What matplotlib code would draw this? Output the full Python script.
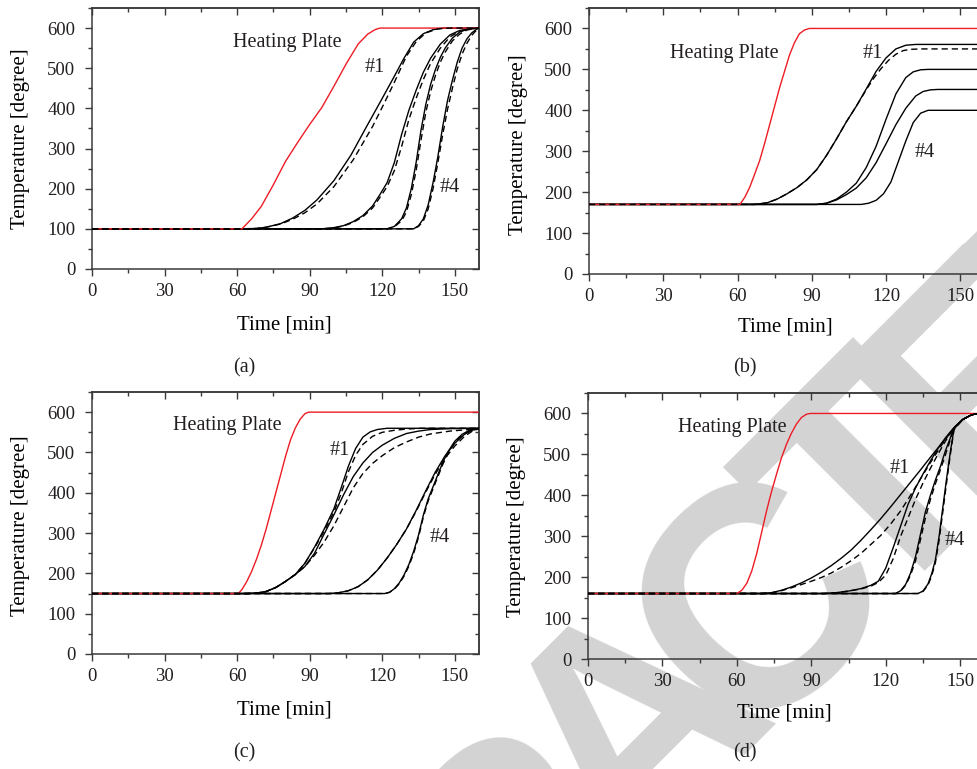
import matplotlib
matplotlib.use("Agg")
import matplotlib.pyplot as plt
from matplotlib import font_manager
from matplotlib.ticker import MultipleLocator

# ------------------------------------------------------------------ data
# (a)  base 100
A_PLATE_t = [0, 62, 66, 70, 75, 80, 85, 90, 95, 100, 105, 110, 114, 117, 119, 121, 160]
A_PLATE_y = [100, 100, 125, 156, 210, 268, 315, 360, 402, 455, 510, 560, 585, 596, 600, 600, 600]
A1_t = [0, 62, 68, 72, 78, 83, 88, 93, 100, 107, 114, 120, 125, 129, 133, 137, 141, 145, 160]
A1_s = [100, 100, 101, 104, 113, 127, 146, 172, 220, 283, 360, 425, 480, 525, 565, 586, 596, 600, 600]
A1d_t = [0, 62, 68, 72, 78, 83, 88, 93, 100, 108, 116, 121, 125, 130, 134, 138, 143, 148, 160]
A1d_y = [100, 100, 101, 104, 112, 124, 140, 162, 205, 272, 355, 415, 465, 530, 566, 588, 598, 600, 600]
A2_t = [0, 95, 100, 104, 108, 112, 116, 119, 122, 125, 128, 131, 134, 137, 140, 144, 148, 152, 156, 160]
A2_s = [100, 100, 103, 108, 118, 133, 157, 185, 215, 265, 335, 395, 445, 490, 525, 560, 583, 594, 598, 600]
A2_d = [100, 100, 102, 107, 116, 130, 152, 178, 205, 245, 305, 372, 425, 472, 512, 550, 578, 592, 598, 600]
A3_t = [0, 122, 125, 128, 130, 132, 134, 136, 138, 140, 142, 144, 146, 149, 152, 155, 158, 160]
A3_s = [100, 100, 106, 125, 152, 200, 265, 345, 410, 460, 497, 527, 550, 575, 590, 597, 600, 600]
A3_d = [100, 100, 105, 120, 142, 185, 245, 320, 390, 442, 482, 515, 540, 568, 585, 595, 599, 600]
A4_t = [0, 133, 135, 137, 139, 141, 143, 145, 147, 149, 151, 153, 155, 157, 159, 160]
A4_s = [100, 100, 108, 125, 160, 215, 280, 355, 420, 470, 515, 550, 573, 588, 597, 600]
A4_d = [100, 100, 106, 120, 150, 200, 265, 335, 398, 450, 498, 535, 562, 582, 595, 600]

# (b)  base 170
B_PLATE_t = [0, 61, 63, 65, 67, 69, 71, 73, 75, 77, 79, 81, 83, 85, 87, 89, 90, 160]
B_PLATE_y = [170, 170, 188, 213, 245, 278, 320, 365, 410, 455, 495, 535, 565, 587, 596, 600, 600, 600]
B1_t = [0, 67, 72, 76, 80, 84, 88, 92, 96, 100, 104, 108, 112, 116, 120, 124, 128, 132, 160]
B1_s = [170, 170, 174, 183, 196, 211, 230, 255, 290, 330, 372, 410, 452, 495, 528, 550, 559, 561, 561]
B1d_t = [0, 67, 72, 76, 80, 84, 88, 92, 96, 100, 104, 108, 112, 115, 118, 121, 124, 127, 130, 134, 160]
B1d_y = [170, 170, 174, 183, 196, 211, 230, 255, 290, 330, 372, 410, 450, 478, 502, 522, 537, 546, 549, 550, 550]
B2_t = [0, 92, 96, 100, 104, 108, 112, 116, 120, 124, 128, 131, 134, 137, 160]
B2_s = [170, 170, 173, 183, 200, 222, 260, 312, 378, 440, 480, 494, 499, 500, 500]
B3_t = [0, 92, 96, 100, 104, 108, 112, 116, 120, 124, 128, 132, 135, 138, 141, 160]
B3_s = [170, 170, 173, 181, 194, 210, 235, 272, 318, 365, 405, 435, 446, 450, 451, 451]
B4_t = [0, 110, 113, 116, 119, 122, 125, 128, 131, 134, 137, 140, 160]
B4_s = [170, 170, 173, 180, 196, 225, 275, 325, 370, 393, 400, 400, 400]

# (c)  base 150
C_PLATE_t = [0, 60.5, 62, 64, 66, 68, 70, 72, 74, 76, 78, 80, 82, 84, 86, 88, 89.5, 160]
C_PLATE_y = [150, 150, 160, 180, 205, 235, 270, 310, 355, 400, 445, 490, 530, 560, 582, 596, 600, 600]
C1_t = [0, 64, 68, 72, 76, 80, 84, 88, 92, 96, 100, 103, 106, 109, 112, 115, 118, 122, 160]
C1_s = [150, 150, 151, 155, 165, 180, 197, 225, 265, 310, 360, 412, 466, 510, 538, 551, 557, 560, 560]
C1d_t = [0, 64, 68, 72, 76, 80, 84, 88, 92, 96, 100, 103, 106, 109, 112, 116, 120, 125, 130, 136, 160]
C1d_y = [150, 150, 151, 155, 165, 180, 197, 225, 263, 305, 352, 398, 452, 493, 520, 540, 550, 555, 558, 560, 560]
C2_t = [0, 64, 68, 72, 76, 80, 84, 88, 92, 96, 100, 104, 108, 112, 116, 120, 125, 130, 135, 140, 148, 160]
C2_s = [150, 150, 151, 155, 165, 180, 197, 217, 250, 298, 345, 395, 440, 474, 500, 518, 535, 547, 553, 557, 559, 560]
C2_d = [150, 150, 151, 155, 165, 180, 197, 217, 245, 278, 318, 365, 412, 448, 473, 492, 512, 526, 538, 546, 553, 559]
C3_t = [0, 98, 102, 106, 110, 114, 118, 122, 126, 130, 134, 138, 142, 146, 150, 154, 157, 160]
C3_s = [150, 150, 152, 157, 167, 184, 208, 238, 272, 310, 356, 405, 452, 492, 523, 545, 555, 560]
C3_d = [150, 150, 152, 157, 167, 184, 208, 238, 272, 310, 354, 402, 447, 486, 516, 540, 552, 559]
C4_t = [0, 121, 123, 125, 127, 129, 131, 133, 135, 137, 139, 141, 143, 145, 147, 150, 153, 156, 160]
C4_s = [150, 150, 153, 162, 176, 196, 222, 255, 295, 345, 385, 415, 445, 475, 500, 528, 545, 555, 560]
C4_d = [150, 150, 153, 161, 174, 193, 218, 250, 290, 340, 380, 410, 440, 470, 495, 524, 542, 553, 559]

# (d)  base 160
D_PLATE_t = [0, 60, 62, 64, 66, 68, 70, 72, 74, 76, 78, 80, 82, 84, 86, 88, 89.5, 160]
D_PLATE_y = [160, 160, 168, 185, 215, 258, 310, 363, 410, 452, 492, 525, 552, 574, 590, 598, 600, 600]
D1_t = [0, 70, 74, 78, 82, 86, 90, 94, 98, 102, 106, 110, 114, 118, 122, 126, 130, 134, 138, 142, 145, 148, 151, 154, 156, 160]
D1_s = [160, 160, 162, 168, 176, 186, 198, 212, 228, 246, 266, 290, 316, 343, 372, 402, 432, 462, 493, 523, 545, 568, 585, 595, 599, 600]
D1_d = [160, 160, 162, 167, 174, 182, 190, 199, 210, 224, 240, 258, 280, 302, 330, 362, 400, 440, 480, 518, 545, 568, 585, 595, 599, 600]
D2_t = [0, 95, 100, 105, 110, 114, 117, 120, 123, 126, 129, 132, 135, 138, 141, 144, 147, 148, 151, 154, 156, 160]
D2_s = [160, 160, 162, 166, 172, 180, 190, 222, 272, 325, 378, 418, 452, 484, 514, 540, 562, 568, 585, 595, 599, 600]
D2_d = [160, 160, 162, 166, 171, 178, 187, 205, 245, 300, 345, 390, 430, 466, 500, 532, 560, 568, 585, 595, 599, 600]
D3_t = [0, 124, 126, 128, 130, 132, 134, 136, 138, 140, 142, 144, 146, 147.5, 151, 154, 156, 160]
D3_s = [160, 160, 167, 182, 210, 250, 305, 360, 400, 437, 470, 508, 540, 565, 585, 595, 599, 600]
D3_d = [160, 160, 166, 180, 205, 240, 292, 345, 390, 428, 462, 498, 535, 565, 585, 595, 599, 600]
D4_t = [0, 133, 135, 137, 138.5, 140, 141.5, 143, 144.5, 146, 147.5, 151, 154, 156, 160]
D4_s = [160, 160, 166, 183, 208, 242, 300, 370, 440, 505, 562, 585, 595, 599, 600]
D4_d = [160, 160, 165, 180, 203, 235, 290, 360, 430, 498, 560, 585, 595, 599, 600]

X_TICKS = [0, 30, 60, 90, 120, 150]
Y_TICKS = [0, 100, 200, 300, 400, 500, 600]
PANEL_TAGS = ["(a)", "(b)", "(c)", "(d)"]
WATERMARK = "RETRACTED"

# ------------------------------------------------------------------ style
W, H = 977, 769
SERIF = "Liberation Serif"
TXT = "#231f20"
AXC = "#3a3a3a"
RED = "#ee1c25"


def has_font(name):
    try:
        font_manager.findfont(font_manager.FontProperties(family=name),
                              fallback_to_default=False)
        return True
    except Exception:
        return False


WM_FONT = "Liberation Sans Narrow" if has_font("Liberation Sans Narrow") else "Liberation Sans"

plt.rcParams["font.family"] = [SERIF, "DejaVu Serif"]
plt.rcParams["text.color"] = TXT

fig = plt.figure(figsize=(W / 100, H / 100), dpi=100)
fig.patch.set_facecolor("white")


def px_rect(left, top, right, bottom):
    return [left / W, 1 - bottom / H, (right - left) / W, (bottom - top) / H]


def setup_axes(rect, xlab_pos, ylab_pos):
    ax = fig.add_axes(rect)
    ax.set_facecolor("none")
    ax.set_xlim(0, 160)
    ax.set_ylim(0, 650)
    ax.set_xticks(X_TICKS)
    ax.set_yticks(Y_TICKS)
    ax.xaxis.set_minor_locator(MultipleLocator(15))
    ax.yaxis.set_minor_locator(MultipleLocator(50))
    ax.tick_params(axis="both", which="major", direction="out", length=5, width=1.0,
                   color=AXC, labelsize=13.5, labelcolor=TXT)
    ax.tick_params(axis="both", which="minor", direction="out", length=3, width=1.0, color=AXC)
    ax.tick_params(axis="x", which="major", pad=5)
    ax.tick_params(axis="y", which="major", pad=7)
    for sp in ax.spines.values():
        sp.set_color(AXC)
        sp.set_linewidth(1.1)
    # mirrored inward ticks on top / right
    top = ax.secondary_xaxis("top")
    top.set_xticks(X_TICKS)
    top.xaxis.set_minor_locator(MultipleLocator(15))
    top.tick_params(which="major", direction="in", length=5, width=1.0, color=AXC, labeltop=False)
    top.tick_params(which="minor", direction="in", length=3, width=1.0, color=AXC)
    top.spines["top"].set_color(AXC)
    top.spines["top"].set_linewidth(1.1)
    right = ax.secondary_yaxis("right")
    right.set_yticks(Y_TICKS)
    right.yaxis.set_minor_locator(MultipleLocator(50))
    right.tick_params(which="major", direction="in", length=5, width=1.0, color=AXC, labelright=False)
    right.tick_params(which="minor", direction="in", length=3, width=1.0, color=AXC)
    right.spines["right"].set_color(AXC)
    right.spines["right"].set_linewidth(1.1)

    ax.set_xlabel("Time [min]", fontsize=15)
    ax.xaxis.set_label_coords(*xlab_pos)
    ax.xaxis.label.set_va("center")
    ax.set_ylabel("Temperature [degree]", fontsize=15)
    ax.yaxis.set_label_coords(*ylab_pos)
    ax.yaxis.label.set_va("center")
    ax.yaxis.label.set_ha("center")
    return ax


LW = 1.0
DASH = (0, (4.5, 2.8))


def solid(ax, t, y, z=3):
    ax.plot(t, y, color="black", lw=LW, solid_joinstyle="round", zorder=z)


def dashed(ax, t, y):
    ax.plot(t, y, color="black", lw=LW, linestyle=DASH, zorder=4)


def plate(ax, t, y):
    ax.plot(t, y, color=RED, lw=LW, solid_joinstyle="round", zorder=3.5)


def labels(ax, hp, n1, n4):
    ax.text(hp[0], hp[1], "Heating Plate", fontsize=14.5, ha="left", va="center", zorder=6)
    ax.text(n1[0], n1[1], "#1", fontsize=14.5, ha="left", va="center", zorder=6)
    ax.text(n4[0], n4[1], "#4", fontsize=14.5, ha="left", va="center", zorder=6)


# ---- (a)
axa = setup_axes(px_rect(92, 8, 479, 269), (0.497, -0.215), (-0.186, 0.5))
for t, s in [(A1_t, A1_s), (A2_t, A2_s), (A3_t, A3_s), (A4_t, A4_s)]:
    solid(axa, t, s)
plate(axa, A_PLATE_t, A_PLATE_y)
dashed(axa, A1d_t, A1d_y)
for t, d in [(A2_t, A2_d), (A3_t, A3_d), (A4_t, A4_d)]:
    dashed(axa, t, d)
labels(axa, (58.3, 563), (112.8, 503), (143.8, 202))

# ---- (b)
axb = setup_axes(px_rect(589, 8, 985, 274), (0.495, -0.199), (-0.179, 0.485))
plate(axb, B_PLATE_t, B_PLATE_y)
for t, s in [(B1_t, B1_s), (B2_t, B2_s), (B3_t, B3_s), (B4_t, B4_s)]:
    solid(axb, t, s)
dashed(axb, B1d_t, B1d_y)
labels(axb, (32.7, 539), (110.6, 539), (131.6, 298))

# ---- (c)
axc = setup_axes(px_rect(92, 392, 479, 654), (0.497, -0.214), (-0.186, 0.49))
for t, s in [(C1_t, C1_s), (C2_t, C2_s), (C3_t, C3_s), (C4_t, C4_s)]:
    solid(axc, t, s)
plate(axc, C_PLATE_t, C_PLATE_y)
dashed(axc, C1d_t, C1d_y)
for t, d in [(C2_t, C2_d), (C3_t, C3_d), (C4_t, C4_d)]:
    dashed(axc, t, d)
labels(axc, (33.5, 568), (98.3, 506), (139.7, 288))

# ---- (d)
axd = setup_axes(px_rect(588, 393, 985, 659), (0.495, -0.203), (-0.179, 0.496))
plate(axd, D_PLATE_t, D_PLATE_y)
for t, s in [(D1_t, D1_s), (D2_t, D2_s), (D3_t, D3_s), (D4_t, D4_s)]:
    solid(axd, t, s)
for t, d in [(D1_t, D1_d), (D2_t, D2_d), (D3_t, D3_d), (D4_t, D4_d)]:
    dashed(axd, t, d)
labels(axd, (36.2, 566), (121.4, 466), (143.6, 290))

# ---- panel captions
for tag, (x, y) in zip(PANEL_TAGS, [(244, 368), (745, 368), (244, 753), (745, 753)]):
    fig.text(x / W, 1 - y / H, tag, fontsize=14.5, ha="center", va="center")

# ---- watermark (behind the plots), letters along a 45 degree line
BASE = 1493          # x + y of the baseline, in pixels
STEP = 345           # (x - y) units per em of advance
ADV = {"R": 0.722, "E": 0.667, "T": 0.611, "A": 0.722, "C": 0.722, "D": 0.722}
centers = []
pos = 387            # centre of the second "T"
idx_T = 6
# build positions backward and forward from the anchor letter
s_vals = [0.0] * len(WATERMARK)
s_vals[idx_T] = pos
for i in range(idx_T - 1, -1, -1):
    s_vals[i] = s_vals[i + 1] - (ADV[WATERMARK[i]] + ADV[WATERMARK[i + 1]]) / 2 * STEP
for i in range(idx_T + 1, len(WATERMARK)):
    s_vals[i] = s_vals[i - 1] + (ADV[WATERMARK[i]] + ADV[WATERMARK[i - 1]]) / 2 * STEP
for ch, s in zip(WATERMARK, s_vals):
    x = (BASE + s) / 2
    y = (BASE - s) / 2
    fig.text(x / W, 1 - y / H, ch, fontsize=225, fontweight="bold", family=WM_FONT,
             color="#d3d3d3", rotation=45, rotation_mode="anchor",
             ha="center", va="baseline", zorder=-10)

fig.savefig("out.png", dpi=100)
